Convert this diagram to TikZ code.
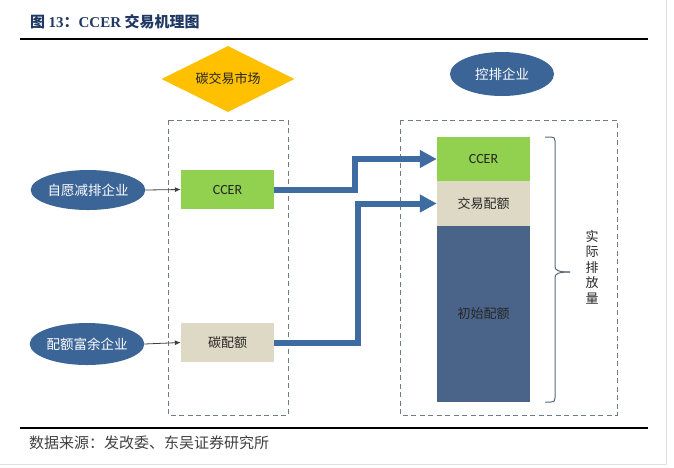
\documentclass[tikz,border=0pt]{standalone}
\usepackage{fontspec}
\setmainfont{Liberation Serif}
\newfontfamily\cjk{Noto Sans CJK SC}
\newfontfamily\latinsans{Carlito}
\usetikzlibrary{shapes.geometric,arrows.meta}
\definecolor{navy}{HTML}{1F3864}
\definecolor{ellblue}{HTML}{3B6497}
\definecolor{arrblue}{HTML}{3E6CA0}
\definecolor{cgreen}{HTML}{92D050}
\definecolor{cbeige}{HTML}{DDD9C4}
\definecolor{cslate}{HTML}{4A6489}
\definecolor{corange}{HTML}{FFC000}
\definecolor{dashgray}{HTML}{6E7B8B}
\definecolor{bracegray}{HTML}{5A6B80}
\tikzset{
  firm/.style={ellipse, fill=ellblue, text=white, inner sep=0pt, font=\cjk\fontsize{13.5}{15}\selectfont},
  cell/.style={rectangle, inner sep=0pt, font=\cjk\fontsize{13}{15}\selectfont, text=black!85},
  region/.style={draw=dashgray, line width=0.9pt, dash pattern=on 5pt off 3.5pt},
  thin/.style={draw=black!75, line width=0.8pt, -{Latex[length=6pt,width=5pt]}},
  thick/.style={draw=arrblue, line width=6pt, line join=miter, -{Triangle[length=17pt,width=17pt]}},
}
\begin{document}
\begin{tikzpicture}[x=1pt,y=-1pt]
\useasboundingbox (0,0) rectangle (674,467);
\fill[white] (0,0) rectangle (674,467);
% frame edges
\draw[black!12, line width=0.8pt] (666,0) -- (666,464) -- (0,464);
% title and rules
\node[anchor=west, text=navy, font=\cjk\bfseries\fontsize{15}{17}\selectfont, inner sep=0pt] (title) at (30,22) {图 {\rmfamily\bfseries 13}：{\rmfamily\bfseries CCER} 交易机理图};
\draw[black, line width=2pt] (20,39) -- (648,39);
\draw[black, line width=2pt] (20,428) -- (648,428);
\node[anchor=west, text=black!75, font=\cjk\fontsize{15}{17}\selectfont, inner sep=0pt] (src) at (29,443) {数据来源：发改委、东吴证券研究所};
% market
\node[diamond, fill=corange, minimum width=133pt, minimum height=66pt, inner sep=0pt, aspect=2, font=\cjk\fontsize{13}{15}\selectfont, text=black!85] (market) at (228,79) {碳交易市场};
\draw[region] (168,120) rectangle (288,415);
\draw[region] (400,120) rectangle (617,415);
% firms
\node[firm, minimum width=104pt, minimum height=44pt] (ctrl) at (502,74) {控排企业};
\node[firm, minimum width=102pt, minimum height=40pt] (vol) at (88,190) {自愿减排企业};
\node[firm, minimum width=104pt, minimum height=42pt] (surp) at (87,344) {配额富余企业};
% left cells
\node[cell, fill=cgreen, minimum width=93pt, minimum height=39pt, font=\latinsans\fontsize{14}{16}\selectfont] (ccerL) at (227.5,189.5) {CCER};
\node[cell, fill=cbeige, minimum width=93pt, minimum height=39pt] (tanL) at (227.5,342.5) {碳配额};
% right stack
\node[cell, fill=cgreen, minimum width=93pt, minimum height=44pt, font=\latinsans\fontsize{14}{16}\selectfont] (ccerR) at (483.5,159) {CCER};
\node[cell, fill=cbeige, minimum width=93pt, minimum height=45pt] (tradeR) at (483.5,203.5) {交易配额};
\node[cell, fill=cslate, minimum width=93pt, minimum height=176pt] (initR) at (483.5,314) {初始配额};
% connectors
\draw[thin] (vol.east) -- (ccerL.west);
\draw[thin] (surp.east) -- (tanL.west);
\draw[thick] (ccerL.east) -- ++(81,0) |- (ccerR.west);
\draw[thick] (tanL.east) -- ++(84,0) |- (tradeR.west);
% brace
\coordinate (bt) at (545,137);
\coordinate (bb) at (545,402);
\coordinate (bm) at (570,272);
\draw[bracegray, line width=1pt] (bt) -- (551,137) .. controls (554,137) and (555,138) .. (555,141) -- (555,266) .. controls (555,270) and (557,272) .. (bm);
\draw[bracegray, line width=1pt] (bb) -- (551,402) .. controls (554,402) and (555,401) .. (555,398) -- (555,278) .. controls (555,274) and (557,272) .. (bm);
\node[font=\cjk\fontsize{13}{15.5}\selectfont, text=black!85, align=center, inner sep=0pt] (emis) at (592,267) {实\\际\\排\\放\\量};
\end{tikzpicture}
\end{document}
